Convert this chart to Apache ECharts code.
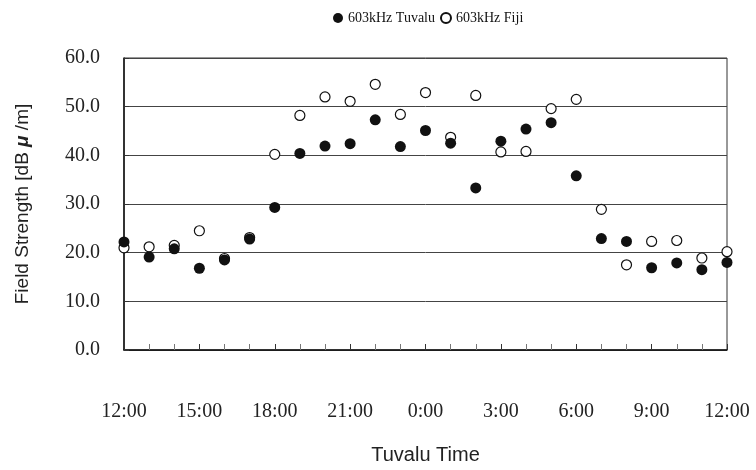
<!DOCTYPE html>
<html>
<head>
    <meta charset="utf-8" />
    <script src="https://cdn.jsdelivr.net/npm/echarts@6/dist/echarts.min.js"></script>
    <style>
        body, html { margin: 0; padding: 0; background: #fff; }
        #main { width: 756px; height: 470px; }
    </style>
</head>
<body>
    <div id="main"></div>
    <script type="text/javascript">
        // hours after 12:00 Tuvalu time
        var hours = [0, 1, 2, 3, 4, 5, 6, 7, 8, 9, 10, 11, 12, 13, 14, 15, 16, 17, 18, 19, 20, 21, 22, 23, 24];
        // 603kHz Tuvalu (filled)
        var tuvalu = [22.2, 19.1, 20.8, 16.8, 18.5, 22.8, 29.3, 40.4, 41.9, 42.4, 47.3, 41.8, 45.1,
            42.5, 33.3, 42.9, 45.4, 46.7, 35.8, 22.9, 22.3, 16.9, 17.9, 16.5, 18.0];
        // 603kHz Fiji (hollow)
        var fiji = [21.0, 21.2, 21.5, 24.5, 18.8, 23.1, 40.2, 48.2, 52.0, 51.1, 54.6, 48.4, 52.9,
            43.7, 52.3, 40.7, 40.8, 49.6, 51.5, 28.9, 17.5, 22.3, 22.5, 18.9, 20.2];
        var seriesNames = ['603kHz Tuvalu', '603kHz Fiji'];

        function pairs(vals) {
            var out = [];
            for (var i = 0; i < hours.length; i++) out.push([hours[i], vals[i]]);
            return out;
        }

        var serif = '"Liberation Serif", "Times New Roman", serif';
        var sans = '"Liberation Sans", Arial, sans-serif';

        var chart = echarts.init(document.getElementById('main'));
        chart.setOption({
            animation: false,
            backgroundColor: '#fff',
            legend: {
                data: seriesNames,
                top: 6,
                left: 328,
                textStyle: { fontFamily: serif, fontSize: 14, color: '#111' },
                itemWidth: 10,
                itemHeight: 10,
                itemGap: 5
            },
            grid: {
                left: 124, right: 29, top: 58, bottom: 116,
                show: true, borderColor: '#333', borderWidth: 1
            },
            xAxis: {
                type: 'value',
                min: 0, max: 24, interval: 3,
                name: 'Tuvalu Time',
                nameLocation: 'middle',
                nameGap: 95,
                nameTextStyle: { fontFamily: sans, fontSize: 20, color: '#222' },
                axisLine: { lineStyle: { color: '#111', width: 1.5 } },
                axisTick: { inside: true, length: 6, lineStyle: { color: '#333' } },
                minorTick: { show: true, splitNumber: 3, length: 6, lineStyle: { color: '#777' } },
                splitLine: { show: false },
                axisLabel: {
                    margin: 52, fontFamily: serif, fontSize: 20, color: '#222',
                    formatter: function (v) { return ((12 + v) % 24) + ':00'; }
                }
            },
            yAxis: {
                type: 'value',
                min: 0, max: 60, interval: 10,
                name: 'Field Strength [dB {mu|μ} /m]',
                nameLocation: 'middle',
                nameGap: 92,
                nameRotate: 90,
                nameTextStyle: {
                    fontFamily: sans, fontSize: 19, color: '#222',
                    rich: { mu: { fontFamily: sans, fontSize: 19, fontWeight: 'bold', fontStyle: 'italic', color: '#222' } }
                },
                axisLine: { show: true, lineStyle: { color: '#111', width: 1.5 } },
                axisTick: { show: true, inside: true, length: 5, lineStyle: { color: '#333' } },
                splitLine: { lineStyle: { color: '#444', width: 1 } },
                axisLabel: {
                    margin: 24, fontFamily: serif, fontSize: 20, color: '#222',
                    formatter: function (v) { return v.toFixed(1); }
                }
            },
            series: [
                {
                    name: seriesNames[1],
                    type: 'scatter',
                    data: pairs(fiji),
                    symbol: 'circle',
                    symbolSize: 10,
                    itemStyle: { color: '#fff', borderColor: '#111', borderWidth: 1.2, opacity: 1 },
                    z: 2
                },
                {
                    name: seriesNames[0],
                    type: 'scatter',
                    data: pairs(tuvalu),
                    symbol: 'circle',
                    symbolSize: 11,
                    itemStyle: { color: '#111', opacity: 1 },
                    z: 3
                }
            ]
        });
    </script>
</body>
</html>
